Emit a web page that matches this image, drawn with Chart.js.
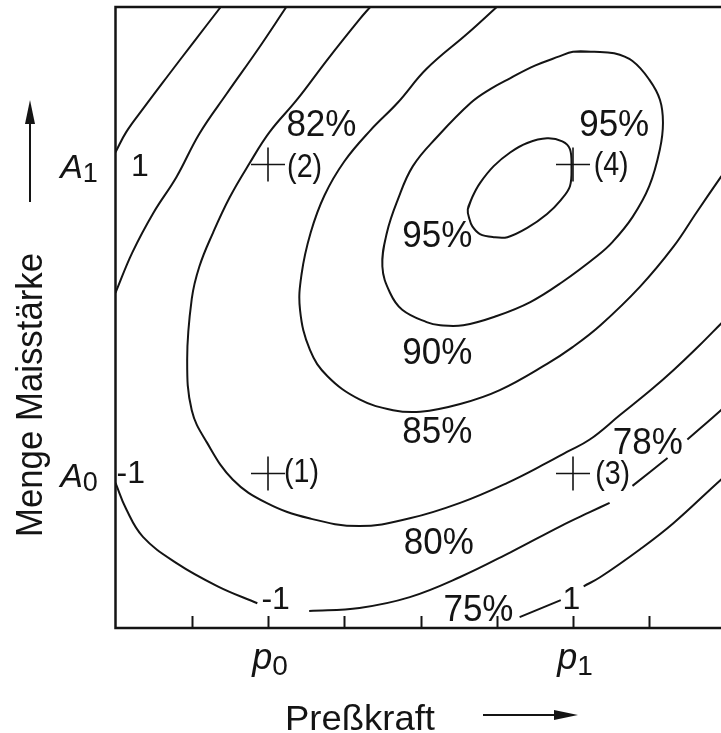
<!DOCTYPE html>
<html>
<head>
<meta charset="utf-8">
<script src="https://cdn.jsdelivr.net/npm/chart.js@4/dist/chart.umd.min.js"></script>
<style>
  html, body { margin: 0; padding: 0; background: #fff; overflow: hidden; width: 721px; height: 733px; }
  #wrap { position: absolute; left: 0; top: 0; width: 740px; height: 733px; }
</style>
</head>
<body>
<div id="wrap"><canvas id="c" width="740" height="733"></canvas></div>
<script>
// Coded factor settings: Preßkraft (p) and Menge Maisstärke (A), both from -2 to +2
const xTickValues = [-1.5, -1, -0.5, 0, 0.5, 1, 1.5];
const pressLevelValues = [-1, 1];
const pressLevelNames = [['p', '0'], ['p', '1']];
const starchLevelValues = [-1, 1];
const starchLevelNames = [['A', '0'], ['A', '1']];

// Design points of the 2x2 plan and their numbers
const designPress  = [-1, -1, 1, 1];
const designStarch = [-1, 1, -1, 1];
const designNames  = ['(1)', '(2)', '(3)', '(4)'];

// Iso-lines of the yield (points in coded units, null = interruption of the line)
const iso70Upper = [[-1.31,2.02],[-1.49,1.79],[-1.66,1.57],[-1.82,1.36],[-1.93,1.21],[-2.0,1.08]];
const iso75Upper = [[-0.88,2.02],[-1.07,1.74],[-1.27,1.46],[-1.45,1.2],[-1.6,0.92],[-1.75,0.69],[-1.89,0.43],[-2.0,0.17]];
const iso75Lower = [[-2.0,-1.06],[-1.93,-1.23],[-1.82,-1.41],[-1.6,-1.58],[-1.33,-1.73],[-1.07,-1.84],null,
                    [-0.73,-1.89],[-0.4,-1.87],[-0.07,-1.8],[0.26,-1.67],[0.59,-1.51],[0.92,-1.34],[1.11,-1.25],[1.24,-1.19],null,
                    [1.39,-1.08],[1.62,-0.9],null,[1.75,-0.78],[1.97,-0.59],[2.0,-0.56]];
const iso70Lower = [[0.65,-1.93],[0.92,-1.82],null,[1.07,-1.73],[1.18,-1.67],[1.44,-1.49],[1.66,-1.32],[1.97,-1.04],[2.0,-1.02]];
const iso80 = [[-0.33,2.02],[-0.4,1.94],[-0.61,1.68],[-0.81,1.42],[-0.99,1.21],[-1.12,1.01],[-1.25,0.79],[-1.36,0.56],
               [-1.45,0.34],[-1.5,0.13],[-1.53,-0.26],[-1.5,-0.59],[-1.4,-0.8],[-1.23,-1.04],[-1.01,-1.19],[-0.73,-1.29],
               [-0.4,-1.34],[-0.07,-1.29],[0.26,-1.19],[0.57,-1.06],[0.83,-0.93],[0.96,-0.86],[1.11,-0.78],[1.31,-0.62],
               [1.51,-0.46],[1.66,-0.33],[1.83,-0.17],[1.97,-0.03],[2.0,0.0]];
const iso85 = [[0.5,2.02],[0.31,1.85],[0.04,1.62],[-0.15,1.4],[-0.33,1.22],[-0.5,1.02],[-0.63,0.8],[-0.72,0.56],
               [-0.78,0.29],[-0.79,0.06],[-0.725,-0.2],[-0.61,-0.37],[-0.4,-0.52],[-0.18,-0.59],[0.0,-0.6],
               [0.26,-0.55],[0.52,-0.46],[0.83,-0.29],[1.0,-0.18],[1.18,-0.04],[1.44,0.21],[1.66,0.47],[1.81,0.69],
               [1.97,0.92],[2.0,0.96]];
const iso90 = [[1.0,1.73],[1.14,1.73],[1.27,1.72],[1.39,1.67],[1.5,1.55],[1.57,1.42],[1.59,1.27],[1.57,1.1],
               [1.5,0.86],[1.39,0.66],[1.26,0.5],[1.16,0.41],[0.93,0.24],[0.72,0.11],[0.5,0.02],[0.28,-0.04],
               [0.13,-0.04],[0.04,-0.02],[-0.12,0.06],[-0.2,0.17],[-0.25,0.34],[-0.22,0.56],[-0.15,0.77],[-0.05,0.99],
               [0.11,1.18],[0.33,1.4],[0.46,1.49],[0.59,1.56],[0.75,1.64],[0.91,1.7]];
const iso95 = [[0.31,0.71],[0.34,0.79],[0.39,0.88],[0.48,0.99],[0.59,1.08],[0.7,1.14],[0.83,1.17],[0.93,1.15],
               [0.98,1.1],[0.99,0.99],[0.98,0.86],[0.92,0.77],[0.83,0.68],[0.7,0.59],[0.57,0.53],[0.48,0.53],
               [0.39,0.55],[0.34,0.6],[0.32,0.65]];

// Text placed in the plot: level labels of the iso-lines and yields measured at the design points
const levelTexts   = ['95%', '90%', '85%', '80%', '75%'];
const levelTextAt  = [[0.11, 0.55], [0.11, -0.21], [0.11, -0.72], [0.12, -1.44], [0.38, -1.87]];
const measuredTexts  = ['82%', '95%', '78%'];
const measuredTextAt = [[-0.65, 1.27], [1.27, 1.27], [1.49, -0.79]];
const designNameAt   = [[-0.78, -1.0], [-0.76, 0.98], [1.26, -1.01], [1.25, 0.99]];
const codedTexts  = ['1', '-1', '-1', '1'];
const codedTextAt = [[-1.84, 1.0], [-1.9, -0.99], [-0.95, -1.8], [0.99, -1.8]];

const INK = '#141414';
const FONT = '"Liberation Sans", Arial, sans-serif';

function pts(list) {
  return list.map(p => p ? { x: p[0], y: p[1] } : { x: null, y: null });
}
function closed(list) {
  return pts(list.concat([list[0], list[1]]));
}
function isoSet(data, tension) {
  return {
    data, showLine: true, pointRadius: 0, borderColor: INK, borderWidth: 2,
    tension: tension == null ? 0.4 : tension, spanGaps: false, fill: false
  };
}

function drawCentered(ctx, text, x, y, size, opts = {}) {
  ctx.save();
  ctx.font = (opts.italic ? 'italic ' : '') + size + 'px ' + FONT;
  ctx.fillStyle = INK;
  ctx.textBaseline = 'alphabetic';
  ctx.textAlign = 'left';
  const w = ctx.measureText(text).width;
  const sx = opts.width ? opts.width / w : 1;
  const base = opts.baseline != null ? opts.baseline : y + 0.358 * size;
  ctx.translate(x, base);
  if (opts.rotate) ctx.rotate(opts.rotate);
  ctx.scale(sx, 1);
  ctx.fillText(text, -w / 2, opts.rotate ? 0.358 * size : 0);
  ctx.restore();
}

function drawSubscripted(ctx, pair, x, baseline, size, subSize, subDrop) {
  ctx.save();
  ctx.fillStyle = INK;
  ctx.textBaseline = 'alphabetic';
  ctx.font = 'italic ' + size + 'px ' + FONT;
  const w1 = ctx.measureText(pair[0]).width;
  ctx.font = subSize + 'px ' + FONT;
  const w2 = ctx.measureText(pair[1]).width;
  const left = x - (w1 + w2) / 2;
  ctx.font = 'italic ' + size + 'px ' + FONT;
  ctx.fillText(pair[0], left, baseline);
  ctx.font = subSize + 'px ' + FONT;
  ctx.fillText(pair[1], left + w1, baseline + subDrop);
  ctx.restore();
}

function arrow(ctx, x1, y1, x2, y2) {
  const ang = Math.atan2(y2 - y1, x2 - x1);
  const L = 24, H = 5;
  ctx.save();
  ctx.strokeStyle = INK; ctx.fillStyle = INK; ctx.lineWidth = 2;
  ctx.beginPath(); ctx.moveTo(x1, y1);
  ctx.lineTo(x2 - Math.cos(ang) * L * 0.8, y2 - Math.sin(ang) * L * 0.8); ctx.stroke();
  ctx.translate(x2, y2); ctx.rotate(ang);
  ctx.beginPath(); ctx.moveTo(0, 0); ctx.lineTo(-L, -H); ctx.lineTo(-L, H); ctx.closePath(); ctx.fill();
  ctx.restore();
}

const decorations = {
  id: 'decorations',
  afterDatasetsDraw(chart) {
    const { ctx, chartArea: a, scales: { x, y } } = chart;
    ctx.save();
    // frame
    ctx.strokeStyle = INK; ctx.lineWidth = 2.5;
    ctx.strokeRect(a.left, a.top, a.right - a.left, a.bottom - a.top);
    // inward tick marks on the p axis
    ctx.lineWidth = 2;
    xTickValues.forEach(v => {
      const px = Math.round(x.getPixelForValue(v)) + 0.5;
      ctx.beginPath(); ctx.moveTo(px, a.bottom); ctx.lineTo(px, a.bottom - 12); ctx.stroke();
    });
    ctx.restore();

    // level names of the factors
    pressLevelValues.forEach((v, i) => {
      drawSubscripted(ctx, pressLevelNames[i], x.getPixelForValue(v) + 2, 669, 36, 28, 6);
    });
    starchLevelValues.forEach((v, i) => {
      drawSubscripted(ctx, starchLevelNames[i], 79, y.getPixelForValue(v) + 13, 34, 27, 4);
    });

    // texts inside the plot
    levelTexts.forEach((t, i) => drawCentered(ctx, t, x.getPixelForValue(levelTextAt[i][0]), y.getPixelForValue(levelTextAt[i][1]), 36, { width: 70 }));
    measuredTexts.forEach((t, i) => drawCentered(ctx, t, x.getPixelForValue(measuredTextAt[i][0]), y.getPixelForValue(measuredTextAt[i][1]), 36, { width: 70 }));
    designNames.forEach((t, i) => {
      const cy = y.getPixelForValue(designNameAt[i][1]);
      drawCentered(ctx, t, x.getPixelForValue(designNameAt[i][0]), cy, 33, { width: 35, baseline: cy + 0.27 * 33 });
    });
    codedTexts.forEach((t, i) => drawCentered(ctx, t, x.getPixelForValue(codedTextAt[i][0]), y.getPixelForValue(codedTextAt[i][1]), 32));

    // axis titles with arrows
    drawCentered(ctx, 'Preßkraft', 360, 717, 35, { width: 150 });
    arrow(ctx, 483, 715, 578, 715);
    drawCentered(ctx, 'Menge Maisstärke', 29, 395, 36, { width: 284, rotate: -Math.PI / 2, baseline: 395 });
    arrow(ctx, 30, 202, 30, 100);
  }
};

new Chart(document.getElementById('c'), {
  type: 'scatter',
  data: {
    datasets: [
      isoSet(pts(iso70Upper)),
      isoSet(pts(iso75Upper)),
      isoSet(pts(iso75Lower)),
      isoSet(pts(iso70Lower)),
      isoSet(pts(iso80)),
      isoSet(pts(iso85)),
      isoSet(closed(iso90)),
      isoSet(closed(iso95), 0.35),
      {
        data: designPress.map((p, i) => ({ x: p, y: designStarch[i] })),
        pointStyle: 'cross', pointRadius: 17, pointBorderWidth: 1.6,
        pointBorderColor: INK, pointBackgroundColor: INK, showLine: false
      }
    ]
  },
  options: {
    responsive: false,
    devicePixelRatio: 1,
    animation: false,
    events: [],
    layout: { autoPadding: false, padding: { left: 115.5, right: 14.5, top: 7, bottom: 105 } },
    plugins: { legend: { display: false }, tooltip: { enabled: false } },
    scales: {
      x: { type: 'linear', min: -2, max: 2, display: false },
      y: { type: 'linear', min: -2, max: 2.02, display: false }
    }
  },
  plugins: [decorations]
});
</script>
</body>
</html>
